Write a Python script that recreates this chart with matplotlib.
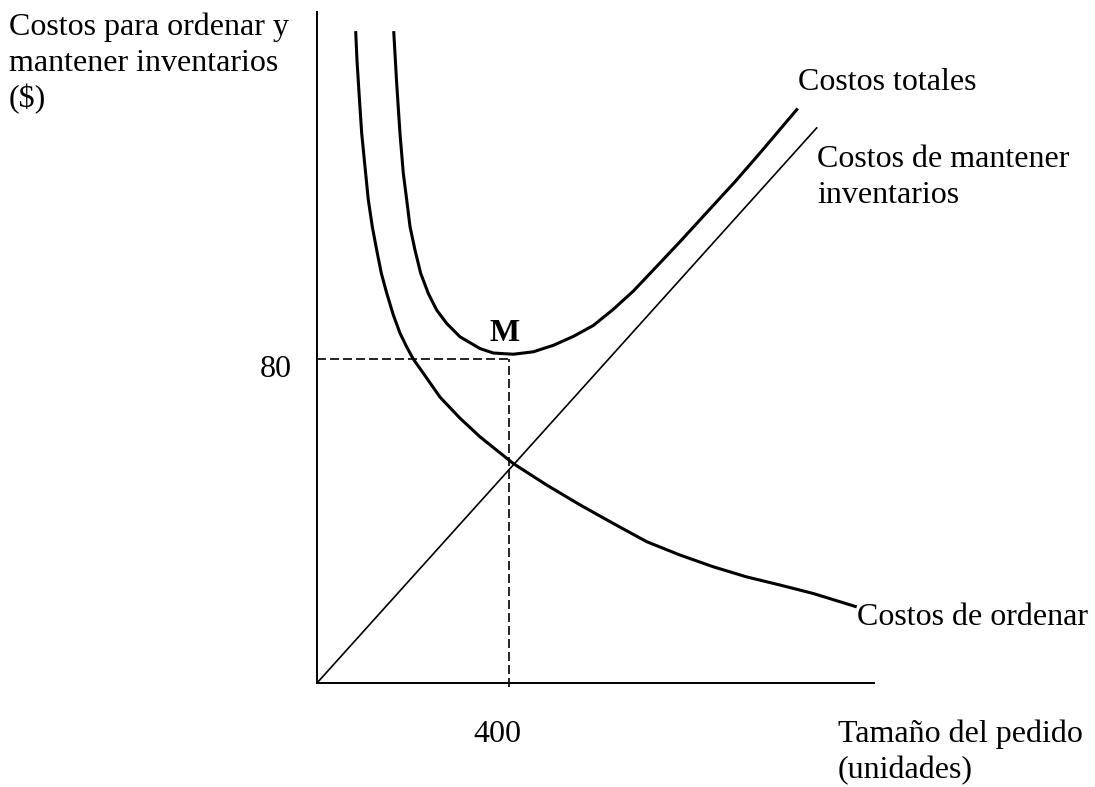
import numpy as np
import matplotlib
matplotlib.use("Agg")
import matplotlib.pyplot as plt

# values (x: units ordered, y: dollars)
orden_x = [80.6, 83.3, 88.5, 93.1, 100.0, 106.9, 115.2, 124.4, 134.0, 145.2,
           159.0, 172.9, 186.9, 200.6, 221.5, 256.3, 297.9, 339.6, 409.0,
           478.5, 547.9, 617.3, 686.9, 756.3, 825.6, 895.2, 964.6, 1034.0,
           1124.4]
orden_y = [161.0, 153.8, 144.0, 135.8, 127.5, 119.3, 112.7, 106.9, 101.2, 96.3,
           90.9, 86.4, 83.0, 80.0, 76.5, 70.6, 65.4, 60.8, 54.2,
           48.9, 44.0, 39.4, 34.9, 31.6, 28.7, 26.2, 24.2, 22.1,
           18.8]

total_x = [159.8, 166.0, 172.9, 179.8, 186.9, 193.8, 204.2, 216.0, 231.9, 249.4,
           270.2, 297.9, 339.6, 367.3, 409.0, 450.6, 492.3, 534.0, 575.6,
           617.3, 659.0, 700.6, 756.3, 811.9, 870.8, 922.9, 1001.5]
total_y = [161.0, 148.1, 135.7, 125.9, 119.3, 112.7, 106.9, 101.2, 96.2, 92.1,
           88.8, 85.5, 82.6, 81.5, 81.2, 81.8, 83.4, 85.6, 88.3,
           92.3, 96.8, 102.0, 109.0, 116.2, 123.8, 130.9, 141.9]

mantener_x = [0, 1041]
mantener_y = [0, 137.1]

q_opt = 400
costo_min = 80

W, H = 1095, 787
plt.rcParams['font.family'] = ['Liberation Serif', 'DejaVu Serif']
fs = 23

fig = plt.figure(figsize=(W / 100, H / 100), dpi=100)
ax = fig.add_axes([317 / W, 104 / H, 557 / W, 671.3 / H])
ax.set_xlim(0, 1160.4)
ax.set_ylim(0, 165.8)
for s in ['top', 'right']:
    ax.spines[s].set_visible(False)
for s in ['left', 'bottom']:
    ax.spines[s].set_linewidth(1.4)
ax.set_xticks([])
ax.set_yticks([])

ax.plot(orden_x, orden_y, color='black', lw=2.2, solid_capstyle='butt',
        solid_joinstyle='round')
ax.plot(total_x, total_y, color='black', lw=2.2, solid_capstyle='butt',
        solid_joinstyle='round')
ax.plot(mantener_x, mantener_y, color='black', lw=1.2)

# optimum guides
ax.plot([0, q_opt], [costo_min, costo_min], color='black', lw=1.2, dashes=(5.4, 2.4))
ax.plot([q_opt, q_opt], [-1, costo_min], color='black', lw=1.2, dashes=(5.4, 2.4),
        clip_on=False)


def put(px, py, s, ha='left', **kw):
    fig.text(px / W, 1 - py / H, s, ha=ha, va='baseline', fontsize=fs, **kw)


ylabel_lines = ["Costos para ordenar y", "mantener inventarios", "($)"]
for i, line in enumerate(ylabel_lines):
    put(9, 35 + 36 * i, line)

put(505, 341, "M", ha='center', fontweight='bold')
put(292, 377, "80", ha='right')
put(473, 742, "400")
put(838, 742, "Tamaño del pedido")
put(838, 778, "(unidades)")
put(857, 625, "Costos de ordenar")
put(798, 90, "Costos totales")
put(817, 167, "Costos de mantener")
put(817, 203, "inventarios")

fig.savefig("out.png", dpi=100)
